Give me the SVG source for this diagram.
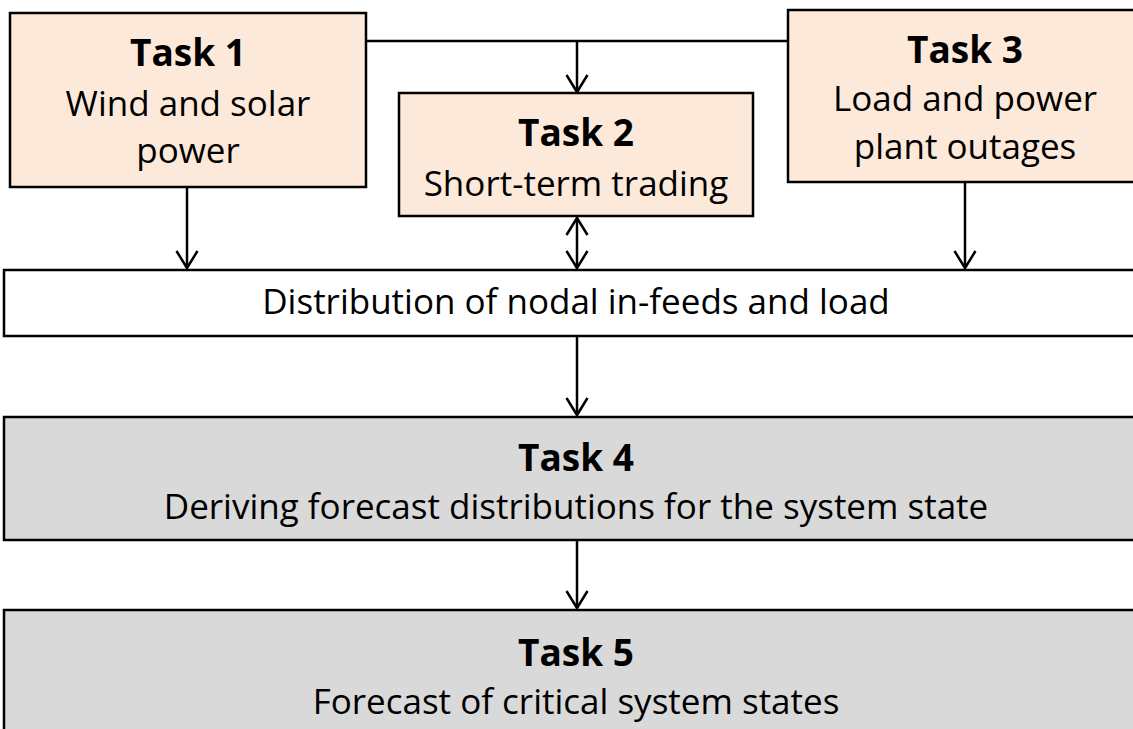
<svg xmlns="http://www.w3.org/2000/svg" width="1133" height="729" viewBox="0 0 1133 729">
<style>
.box{stroke:#000;stroke-width:2.5}
.peach{fill:#FDE9D9}
.gray{fill:#D9D9D9}
.white{fill:#fff}
.t{font-family:"Open Sans","Liberation Sans",sans-serif;fill:#000;text-anchor:middle}
.h{font-weight:bold;font-size:37px}
.b{font-size:35px}
.c{stroke:#000;stroke-width:2.5;fill:none}
</style>
<defs>
<marker id="ah" viewBox="0 0 24 24" refX="20" refY="12" markerWidth="24" markerHeight="24" markerUnits="userSpaceOnUse" orient="auto-start-reverse">
<path d="M3,1.5 L20,12 L3,22.5" fill="none" stroke="#000" stroke-width="2.5"/>
</marker>
</defs>
<rect width="1133" height="729" fill="#fff"/>
<g id="connectors">
<path class="c" d="M366,41 H788"/>
<path class="c" d="M577,41 V92" marker-end="url(#ah)"/>
<path class="c" d="M187,187 V268" marker-end="url(#ah)"/>
<path class="c" d="M577,218 V268" marker-start="url(#ah)" marker-end="url(#ah)"/>
<path class="c" d="M965,183 V268" marker-end="url(#ah)"/>
<path class="c" d="M577,337 V415" marker-end="url(#ah)"/>
<path class="c" d="M577,541 V608" marker-end="url(#ah)"/>
</g>
<g id="task1">
<rect class="box peach" x="10" y="13" width="356" height="174"/>
<text class="t h" x="188" y="66">Task 1</text>
<text class="t b" x="188" y="116">Wind and solar</text>
<text class="t b" x="188" y="163">power</text>
</g>
<g id="task2">
<rect class="box peach" x="399" y="93" width="354" height="123"/>
<text class="t h" x="576" y="146">Task 2</text>
<text class="t b" x="576" y="196">Short-term trading</text>
</g>
<g id="task3">
<rect class="box peach" x="788" y="10" width="350" height="172"/>
<text class="t h" x="965" y="63">Task 3</text>
<text class="t b" x="965" y="111">Load and power</text>
<text class="t b" x="965" y="159">plant outages</text>
</g>
<g id="distribution">
<rect class="box white" x="4" y="270" width="1135" height="66"/>
<text class="t b" x="576" y="314">Distribution of nodal in-feeds and load</text>
</g>
<g id="task4">
<rect class="box gray" x="4" y="417" width="1135" height="123"/>
<text class="t h" x="576" y="471">Task 4</text>
<text class="t b" x="576" y="519">Deriving forecast distributions for the system state</text>
</g>
<g id="task5">
<rect class="box gray" x="4" y="610" width="1135" height="130"/>
<text class="t h" x="576" y="666">Task 5</text>
<text class="t b" x="576" y="714">Forecast of critical system states</text>
</g>
</svg>
